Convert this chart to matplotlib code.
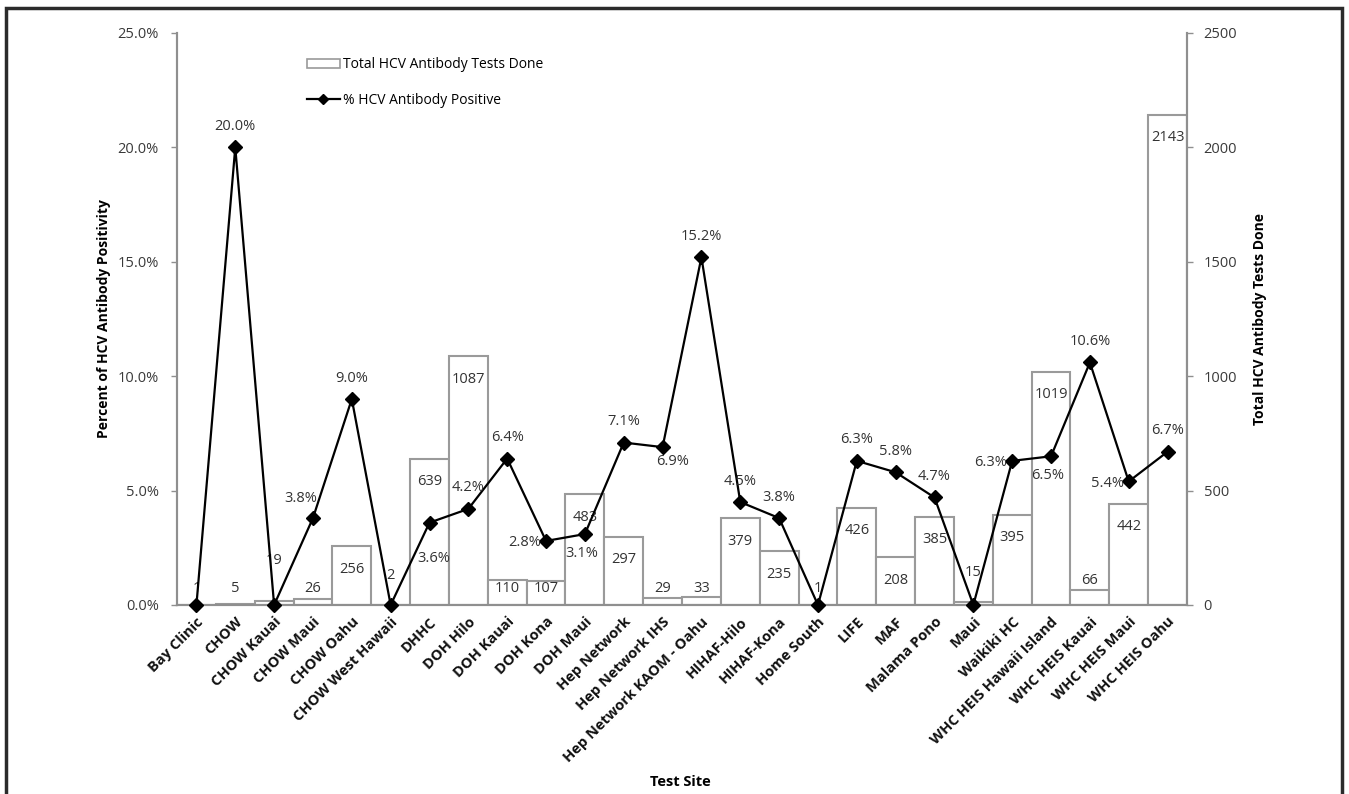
import matplotlib
matplotlib.use("Agg")
import matplotlib.pyplot as plt
from matplotlib.patches import Rectangle, Patch
from matplotlib.lines import Line2D
import numpy as np

sites = ["Bay Clinic", "CHOW", "CHOW Kauai", "CHOW Maui", "CHOW Oahu", "CHOW West Hawaii",
         "DHHC", "DOH Hilo", "DOH Kauai", "DOH Kona", "DOH Maui", "Hep Network",
         "Hep Network IHS", "Hep Network KAOM - Oahu", "HIHAF-Hilo", "HIHAF-Kona",
         "Home South", "LIFE", "MAF", "Malama Pono", "Maui", "Waikiki HC",
         "WHC HEIS Hawaii Island", "WHC HEIS Kauai", "WHC HEIS Maui", "WHC HEIS Oahu"]
tests_done = [1, 5, 19, 26, 256, 2, 639, 1087, 110, 107, 483, 297, 29, 33, 379, 235,
              1, 426, 208, 385, 15, 395, 1019, 66, 442, 2143]
pct_positive = [0.0, 20.0, 0.0, 3.8, 9.0, 0.0, 3.6, 4.2, 6.4, 2.8, 3.1, 7.1, 6.9, 15.2,
                4.5, 3.8, 0.0, 6.3, 5.8, 4.7, 0.0, 6.3, 6.5, 10.6, 5.4, 6.7]
# label placement for each percent label (None = no label)
pct_label_pos = [None, "above", None, "aboveleft", "above", None, "below2", "above", "above",
                 "left", "below", "above", "belowright", "above", "above", "above", None,
                 "above", "above", "above", None, "left", "below", "above", "left", "above"]
# small manual lifts (pixels) of some bar labels, as in the original
bar_label_lift = [0, 0, 28, 0, 0, 13, 0, 0, 0, 0, 0, 0, 0, 0, 0, 0,
                  0, 0, 0, 0, 16, 0, 0, 8, 0, 0]

plt.rcParams['font.family'] = ['Open Sans', 'DejaVu Sans']

W, H = 1349, 794
fig = plt.figure(figsize=(W / 100, H / 100), dpi=100)
fig.patch.set_facecolor("white")

# outer frame
fig.patches.append(Rectangle((6 / W, -0.05), (1342 - 6) / W, 1 - 8 / H + 0.05,
                             transform=fig.transFigure, fill=False,
                             edgecolor="#2b2b2b", linewidth=2.5))

left, right = 177 / W, 1187 / W
bottom, top = 1 - 605 / H, 1 - 33 / H
ax = fig.add_axes([left, bottom, right - left, top - bottom])
ax2 = ax.twinx()

x = np.arange(len(sites))
spine_col = "#8f8f8f"
tick_col = "#3a3a3a"
fs = 10.5
txt_col = "#333333"

# bars (right axis)
ax2.bar(x, tests_done, width=1.0, facecolor="white", edgecolor="#9a9a9a", linewidth=1.5,
        zorder=2)
for xi, v, lift in zip(x, tests_done, bar_label_lift):
    ypos = max(v - 100, 72)
    ax2.annotate(str(v), (xi, ypos), xytext=(0, lift), textcoords="offset pixels",
                 ha="center", va="center", fontsize=fs, color=txt_col, zorder=3)
ax2.set_ylim(0, 2500)
ax2.set_yticks([0, 500, 1000, 1500, 2000, 2500])
ax2.set_ylabel("Total HCV Antibody Tests Done", fontsize=10, fontweight="bold",
               labelpad=11)

# line (left axis), drawn on top
ax.set_zorder(ax2.get_zorder() + 1)
ax.patch.set_visible(False)
ax.plot(x, pct_positive, color="black", linewidth=1.6, marker="D", markersize=7,
        clip_on=False, zorder=5)
offsets = {"above": (0, 21),
           "aboveleft": (-12, 20),
           "below": (-3, -19),
           "belowright": (10, -14),
           "below2": (4, -36)}
for xi, v, pos in zip(x, pct_positive, pct_label_pos):
    if pos is None:
        continue
    if pos == "left":
        ax.annotate(f"{v:.1f}%", (xi, v), xytext=(-5, -2), textcoords="offset pixels",
                    ha="right", va="center", fontsize=fs, color=txt_col, zorder=6)
    else:
        dx, dy = offsets[pos]
        ax.annotate(f"{v:.1f}%", (xi, v), xytext=(dx, dy), textcoords="offset pixels",
                    ha="center", va="center", fontsize=fs, color=txt_col, zorder=6)

ax.set_xlim(-0.5, len(sites) - 0.5)
ax.set_ylim(0, 25)
ax.set_yticks([0, 5, 10, 15, 20, 25])
ax.set_yticklabels([f"{t:.1f}%" for t in [0, 5, 10, 15, 20, 25]])
ax.set_xticks(x)
ax.set_xticklabels(sites, rotation=45, ha="right", rotation_mode="anchor",
                   fontweight="bold", fontsize=10.5)
ax.tick_params(axis="x", length=0, pad=7, colors="#111111")
ax.tick_params(axis="y", length=4, color=spine_col, labelsize=fs, labelcolor=tick_col,
               direction="out", width=1, pad=9)
ax2.tick_params(axis="y", length=4, color=spine_col, labelsize=fs, labelcolor=tick_col,
                direction="out", width=1, pad=8)
ax.set_ylabel("Percent of HCV Antibody Positivity", fontsize=10, fontweight="bold",
              labelpad=5)
ax.set_xlabel("Test Site", fontsize=10.5, fontweight="bold")
ax.xaxis.set_label_coords(0.498, -0.298)

for a in (ax, ax2):
    a.spines["top"].set_visible(False)
    for s in ("left", "right", "bottom"):
        a.spines[s].set_color(spine_col)
        a.spines[s].set_linewidth(1.5)

# legend
handles = [Patch(facecolor="white", edgecolor="#9a9a9a", linewidth=1.2,
                 label="Total HCV Antibody Tests Done"),
           Line2D([0], [0], color="black", linewidth=1.6, marker="D", markersize=5.5,
                  label="% HCV Antibody Positive")]
ax.legend(handles=handles, loc="upper left",
          bbox_to_anchor=((301 - 177) / (1187 - 177), 0.967),
          frameon=False, fontsize=10, handlelength=2.4, handletextpad=0.25,
          labelspacing=1.45, borderaxespad=0)

fig.savefig("out.png", dpi=100)
